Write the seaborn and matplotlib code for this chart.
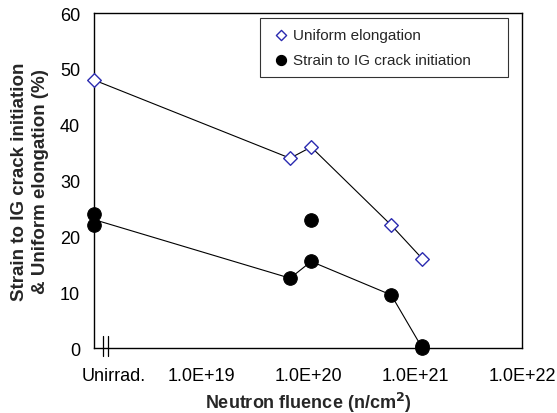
import pandas as pd
import matplotlib.pyplot as plt
import matplotlib.transforms as mtransforms
import seaborn as sns

sns.set_theme(style="white")
plt.rcParams["font.family"] = ["Liberation Sans", "DejaVu Sans"]

# Unirradiated specimens are plotted at the left edge of the log axis
UNIRRAD = 1e18

ue_fluence = [UNIRRAD, 6.8e19, 1.07e20, 6.0e20, 1.17e21]
ue_values = [48, 34, 36, 22, 16]

ig_fluence = [UNIRRAD, UNIRRAD, 6.8e19, 1.07e20, 1.07e20, 6.0e20, 1.17e21, 1.17e21]
ig_values = [24, 22, 12.5, 15.5, 23, 9.5, 0.4, 0]

ig_line_fluence = [UNIRRAD, 6.8e19, 1.07e20, 6.0e20, 1.17e21]
ig_line_values = [23, 12.5, 15.5, 9.5, 0]

tick_pos = [1.54e18, 1e19, 1e20, 1e21, 1e22]
tick_labels = ["Unirrad.", "1.0E+19", "1.0E+20", "1.0E+21", "1.0E+22"]

ue = pd.DataFrame({"fluence": ue_fluence, "value": ue_values})
ig = pd.DataFrame({"fluence": ig_fluence, "value": ig_values})
ig_line = pd.DataFrame({"fluence": ig_line_fluence, "value": ig_line_values})

fig = plt.figure(figsize=(5.57, 4.14), dpi=100)
ax = fig.add_axes([0.169, 0.157, 0.768, 0.809])
ax.set_xscale("log")

sns.lineplot(data=ue, x="fluence", y="value", color="black", lw=0.8, ax=ax,
             legend=False, zorder=2)
sns.lineplot(data=ig_line, x="fluence", y="value", color="black", lw=0.8, ax=ax,
             legend=False, zorder=2)
sns.scatterplot(data=ue, x="fluence", y="value", marker="D", s=48,
                facecolor="white", edgecolor="#2b2bb0", linewidth=1.0, ax=ax,
                zorder=3, clip_on=False, label="Uniform elongation")
sns.scatterplot(data=ig, x="fluence", y="value", marker="o", s=95,
                color="black", edgecolor="black", ax=ax, zorder=3,
                clip_on=False, label="Strain to IG crack initiation")

ax.set_xlim(1e18, 1e22)
ax.set_ylim(0, 60)
ax.set_yticks(range(0, 61, 10))
ax.set_xticks(tick_pos)
ax.set_xticklabels(tick_labels)
ax.xaxis.get_major_ticks()[0].tick1line.set_visible(False)

ax.tick_params(axis="both", which="both", direction="in", top=False, right=False,
               labelsize=13, colors="black")
ax.tick_params(axis="both", which="major", length=5, width=1)
ax.tick_params(axis="x", which="minor", length=3, width=0.8)
ax.tick_params(axis="x", which="major", pad=14)
ax.tick_params(axis="y", which="major", pad=10)
for sp in ax.spines.values():
    sp.set_color("black")
    sp.set_linewidth(1.0)

ax.set_xlabel("Neutron fluence (n/cm$^\\mathbf{2}$)", fontsize=13,
              fontweight="bold", labelpad=4)
ax.set_ylabel("Strain to IG crack initiation\n& Uniform elongation (%)",
              fontsize=13.5, fontweight="bold", labelpad=8, linespacing=1.3)

# axis break marks
trans = mtransforms.blended_transform_factory(ax.transData, ax.transAxes)
for bx in [1.21e18, 1.35e18]:
    ax.plot([bx, bx], [-0.024, 0.036], color="black", lw=0.9, transform=trans,
            clip_on=False)

leg = ax.legend(loc="upper left", bbox_to_anchor=(0.388, 0.812, 0.579, 0.173),
                mode="expand", frameon=True, fancybox=False, edgecolor="black",
                fontsize=11, handletextpad=0.0, borderpad=0.65, labelspacing=0.75,
                handlelength=1.5, borderaxespad=0.0, markerscale=0.75)
leg.get_frame().set_linewidth(0.8)

fig.savefig("out.png", dpi=100)
